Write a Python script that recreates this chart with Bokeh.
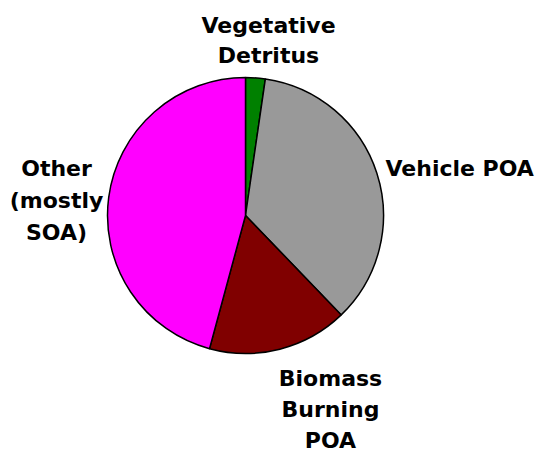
import numpy as np
from bokeh.plotting import figure
from bokeh.models import Range1d, ColumnDataSource
from bokeh.core.properties import value
from bokeh.embed import file_html
from bokeh.resources import INLINE

# Data
categories = ["Vegetative\nDetritus", "Vehicle POA", "Biomass\nBurning\nPOA", "Other\n(mostly\nSOA)"]
shares = [2.3, 35.5, 16.4, 45.8]
colors = ["#008000", "#999999", "#800000", "#FF00FF"]

W, H = 543, 456
p = figure(width=W, height=H, output_backend="svg", toolbar_location=None,
           x_range=Range1d(0, W), y_range=Range1d(0, H), min_border=0)
p.axis.visible = False
p.grid.visible = False
p.outline_line_color = None
p.background_fill_color = "white"
p.border_fill_color = "white"

# picture coords -> data coordinates
def px(x):
    return x
def py(y):
    return H - y

frac = np.array(shares) / np.sum(shares)
cum = np.concatenate([[0], np.cumsum(frac)])
start = np.pi / 2 - cum[:-1] * 2 * np.pi
end = np.pi / 2 - cum[1:] * 2 * np.pi

src = ColumnDataSource(dict(start=start, end=end, color=colors, label=categories))
p.wedge(x=px(245), y=py(215), radius=138, radius_units="screen",
        start_angle="start", end_angle="end", direction="clock",
        fill_color="color", line_color="black", line_width=1.5, source=src)

# label anchors (picture coords: x, baseline of first line), alignment, line gap
anchors = [(268, 25, "center", 30), (385, 168, "left", 32), (330, 378, "center", 31), (56, 168, "center", 32)]

tx, ty, tt, ta = [], [], [], []
for lab, (ax, ay, al, gap) in zip(categories, anchors):
    for i, line in enumerate(lab.split("\n")):
        tx.append(px(ax))
        ty.append(py(ay + i * gap))
        tt.append(line)
        ta.append(al)

tsrc = ColumnDataSource(dict(x=tx, y=ty, text=tt, align=ta))
p.text(x="x", y="y", text="text", text_align="align", source=tsrc,
       text_baseline="alphabetic", text_font=value("DejaVu Sans"),
       text_font_style="bold", text_font_size="22px", text_color="black")

open("out.html", "w").write(file_html(p, INLINE))
